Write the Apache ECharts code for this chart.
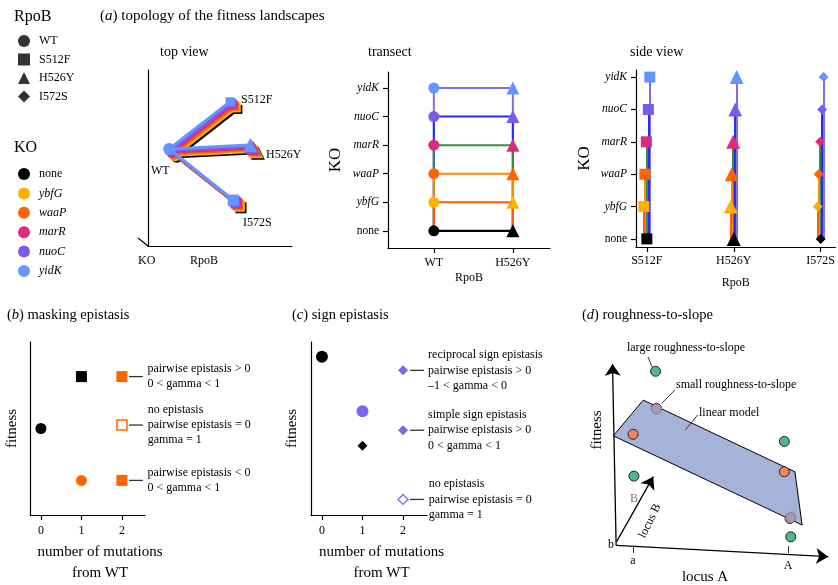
<!DOCTYPE html>
<html><head><meta charset="utf-8">
<script src="https://cdn.jsdelivr.net/npm/echarts@6/dist/echarts.min.js"></script>
<style>html,body{margin:0;padding:0;background:#fff}#c{width:838px;height:585px}</style>
</head><body><div id="c"></div>
<script>
// ---------------- data ----------------
const koNames = ['none','ybfG','waaP','marR','nuoC','yidK'];
const rpoNames = ['WT','S512F','H526Y','I572S'];
// (a) top view: schematic positions of the genotypes (bottom "none" layer)
const topX = [2.01, 6.24, 7.63, 6.46];
const topY = [5.07, 7.76, 5.30, 2.17];
const topLift = [0, 1, 2, 3, 4, 5];          // stacking height of each KO layer
// (a) transect and side view categories
const transectRpo = ['WT','H526Y'];
const sideRpo = ['S512F','H526Y','I572S'];
// (b) masking epistasis
const bMutations = [0, 1, 1, 2, 2, 2];
const bFitness   = [0.5, 0.8, 0.2, 0.8, 0.52, 0.2];
const bNotes = ['', '', '',
  'pairwise epistasis > 0\n0 < gamma < 1',
  'no epistasis\npairwise epistasis = 0\ngamma = 1',
  'pairwise epistasis < 0\n0 < gamma < 1'];
// (c) sign epistasis
const cMutations = [0, 1, 1, 2, 2, 2];
const cFitness   = [0.915, 0.6, 0.4, 0.836, 0.49, 0.09];
const cNotes = ['', '', '',
  'reciprocal sign epistasis\npairwise epistasis > 0\n\u20131 < gamma < 0',
  'simple sign epistasis\npairwise epistasis > 0\n0 < gamma < 1',
  'no epistasis\npairwise epistasis = 0\ngamma = 1'];
// (d) roughness-to-slope schematic
const dPlaneX = [24.5, 83.3, 86.1, 12.9];
const dPlaneY = [72.5, 44.4, 23.5, 58.5];
const dModelX = [20.6, 29.6, 79.2, 81.4];      // orange: model points
const dModelY = [59.1, 69.3, 44.4, 26.1];
const dRoughX = [29.3, 79.2, 20.9, 81.7];      // green: rough landscape
const dRoughY = [83.8, 56.3, 42.7, 18.9];
const dSmoothX = [29.6, 81.7];                 // grey-purple: small roughness
const dSmoothY = [69.0, 26.5];
const dAxes = [ [[14.0,15.5],[12.6,86.7]], [[14.0,15.5],[96.2,11.1]], [[14.2,17.0],[28.4,42.5]] ];
const dTicks = [ [[20.6,15.3],[20.6,12.5]], [[80.6,15.3],[80.6,12.5]] ];
const dLeaders = [ [[26.4,89.4],[28.1,85.0]], [[36.8,76.5],[31.6,71.2]], [[45.6,66.7],[40.8,60.8]] ];

// ---------------- styles ----------------
const SERIF = "'Liberation Serif','Times New Roman',serif";
const koColors = ['#000000','#ffb000','#ff6400','#de2a7e','#7b5ce8','#6495ff'];
const edgeColors = ['#000000','#ff5a14','#ff8c00','#3c8c3c','#2a2aff','#8070e8'];
const rpoSymbols = ['circle','rect','triangle','diamond'];
const topSymbols = ['circle','rect','triangle','rect'];
const topSizes = [12, 9, 14, 11];
const TOP_DX = -0.108, TOP_DY = 0.088;
const sideSymbols = ['rect','triangle','diamond'];
const sideSizes = [11, 14, 10];
const sideDodge = [0, -0.034, -0.023, -0.006, 0.017, 0.034];
const ORANGE = '#ff6400', PURPLE = '#7b68ee';

const chart = echarts.init(document.getElementById('c'));

const axisLine = {show:true, onZero:false, lineStyle:{color:'#000', width:1.2}};
const axisTick = (vals)=>({show:true, inside:false, length:5, customValues:vals, lineStyle:{color:'#000', width:1.2}});
const koLabel = {
  fontFamily:SERIF, fontSize:11.5, color:'#000', margin:9,
  formatter: v => v === 0 ? '{n|none}' : '{i|' + koNames[v] + '}',
  rich:{ n:{fontFamily:SERIF, fontSize:11.5, color:'#000'}, i:{fontFamily:SERIF, fontSize:11.5, fontStyle:'italic', color:'#000'} }
};

const grid = [
  {left:148, top:70, width:144, height:176},   // 0 top view
  {left:388, top:72, width:162, height:176},   // 1 transect
  {left:636, top:70, width:202, height:177},   // 2 side view
  {left:30,  top:342, width:115, height:176},  // 3 (b)
  {left:311, top:342, width:116, height:177},  // 4 (c)
  {left:580, top:330, width:258, height:255}   // 5 (d)
];

const xAxis = [
  {gridIndex:0, type:'value', min:0, max:10, axisLine, axisTick:{show:false}, axisLabel:{show:false}, splitLine:{show:false}},
  {gridIndex:1, type:'value', min:-0.58, max:1.47, axisLine, axisTick:axisTick([0,1]), splitLine:{show:false},
    axisLabel:{customValues:[0,1], formatter:v=>transectRpo[Math.round(v)], fontFamily:SERIF, fontSize:12, color:'#000', margin:9},
    name:'RpoB', nameLocation:'middle', nameGap:24, nameTextStyle:{fontFamily:SERIF, fontSize:12, color:'#000'}},
  {gridIndex:2, type:'value', min:-0.125, max:2.17, axisLine, axisTick:axisTick([0,1,2]), splitLine:{show:false},
    axisLabel:{customValues:[0,1,2], formatter:v=>sideRpo[Math.round(v)], fontFamily:SERIF, fontSize:12, color:'#000', margin:8},
    name:'RpoB', nameLocation:'middle', nameGap:30, nameTextStyle:{fontFamily:SERIF, fontSize:12, color:'#000'}},
  {gridIndex:3, type:'value', min:-0.27, max:2.57, axisLine, axisTick:axisTick([0,1,2]), splitLine:{show:false},
    axisLabel:{customValues:[0,1,2], fontFamily:SERIF, fontSize:12, color:'#000', margin:10},
    name:'number of mutations\nfrom WT', nameLocation:'middle', nameGap:27,
    nameTextStyle:{fontFamily:SERIF, fontSize:15, lineHeight:21, color:'#000', padding:[0,0,0,25]}},
  {gridIndex:4, type:'value', min:-0.27, max:2.59, axisLine, axisTick:axisTick([0,1,2]), splitLine:{show:false},
    axisLabel:{customValues:[0,1,2], fontFamily:SERIF, fontSize:12, color:'#000', margin:10},
    name:'number of mutations\nfrom WT', nameLocation:'middle', nameGap:27,
    nameTextStyle:{fontFamily:SERIF, fontSize:15, lineHeight:21, color:'#000', padding:[0,0,0,25]}},
  {gridIndex:5, type:'value', min:0, max:100, show:false}
];
const yAxis = [
  {gridIndex:0, type:'value', min:0, max:10, axisLine, axisTick:{show:false}, axisLabel:{show:false}, splitLine:{show:false}},
  {gridIndex:1, type:'value', min:-0.6, max:5.56, axisLine, axisTick:axisTick([0,1,2,3,4,5]), splitLine:{show:false},
    axisLabel:Object.assign({customValues:[0,1,2,3,4,5]}, koLabel),
    name:'KO', nameLocation:'middle', nameGap:44, nameTextStyle:{fontFamily:SERIF, fontSize:17, color:'#000'}},
  {gridIndex:2, type:'value', min:-0.25, max:5.22, axisLine, axisTick:axisTick([0,1,2,3,4,5]), splitLine:{show:false},
    axisLabel:Object.assign({customValues:[0,1,2,3,4,5]}, koLabel),
    name:'KO', nameLocation:'middle', nameGap:43, nameTextStyle:{fontFamily:SERIF, fontSize:17, color:'#000'}},
  {gridIndex:3, type:'value', min:0, max:1, axisLine, axisTick:{show:false}, axisLabel:{show:false}, splitLine:{show:false},
    name:'fitness', nameLocation:'middle', nameGap:10, nameTextStyle:{fontFamily:SERIF, fontSize:15, color:'#000'}},
  {gridIndex:4, type:'value', min:0, max:1, axisLine, axisTick:{show:false}, axisLabel:{show:false}, splitLine:{show:false},
    name:'fitness', nameLocation:'middle', nameGap:11, nameTextStyle:{fontFamily:SERIF, fontSize:15, color:'#000'}},
  {gridIndex:5, type:'value', min:0, max:100, show:false}
];

const series = [];

// legend-only series for RpoB shapes
rpoNames.forEach(n => series.push({name:n, type:'scatter', data:[], xAxisIndex:0, yAxisIndex:0, itemStyle:{color:'#000'}}));

// ---- (a) top view ----
koNames.forEach((ko, i) => {
  const dx = TOP_DX * topLift[i], dy = TOP_DY * topLift[i];
  const pts = rpoNames.map((r, j) => [topX[j] + dx, topY[j] + dy]);
  series.push({type:'lines', coordinateSystem:'cartesian2d', xAxisIndex:0, yAxisIndex:0, silent:true,
    data:[1,2,3].map(j => ({coords:[pts[0], pts[j]]})),
    lineStyle:{color:koColors[i], width:3, opacity:1}, z:2 + i*2});
  series.push({type:'scatter', xAxisIndex:0, yAxisIndex:0, silent:true,
    data: pts.map((p, j) => ({value:p, symbol:topSymbols[j], symbolSize:topSizes[j]})),
    itemStyle:{color:koColors[i], opacity:1}, z:3 + i*2});
});

// ---- (a) transect ----
for (let k = 5; k >= 1; k--) {
  series.push({type:'line', xAxisIndex:1, yAxisIndex:1, symbol:'none', silent:true,
    data:[[0,0],[0,k],[1,k],[1,0]], lineStyle:{color:edgeColors[k], width:2}, z:2});
}
series.push({type:'line', xAxisIndex:1, yAxisIndex:1, symbol:'none', silent:true,
  data:[[0,0],[1,0]], lineStyle:{color:'#000', width:2.2}, z:3});
koNames.forEach((ko, i) => series.push({name:ko, type:'scatter', xAxisIndex:1, yAxisIndex:1,
  data:[{value:[0,i], symbol:'circle', symbolSize:11}, {value:[1,i], symbol:'triangle', symbolSize:13}],
  itemStyle:{color:koColors[i], opacity:1}, z:5}));

// ---- (a) side view ----
koNames.forEach((ko, i) => {
  const d = sideDodge[i];
  if (i > 0) series.push({type:'lines', coordinateSystem:'cartesian2d', xAxisIndex:2, yAxisIndex:2, silent:true,
    data: sideRpo.map((r, c) => ({coords:[[c + d, 0], [c + d, i]]})),
    lineStyle:{color:edgeColors[i], width:2, opacity:1}, z:2 + (5 - i)});
  series.push({type:'scatter', xAxisIndex:2, yAxisIndex:2, silent:true,
    data: sideRpo.map((r, c) => ({value:[c + d, i], symbol:sideSymbols[c], symbolSize:sideSizes[c]})),
    itemStyle:{color:koColors[i], opacity:1}, z:10});
});

// ---- (b) & (c) ----
const noteLabel = (txt) => ({show: !!txt, formatter: txt, position:'right', distance:20,
  fontFamily:SERIF, fontSize:12, lineHeight:15.3, color:'#000', align:'left', verticalAlign:'middle'});
const bStyles = [
  {symbol:'circle', size:11, item:{color:'#000'}},
  {symbol:'rect', size:11, item:{color:'#000'}},
  {symbol:'circle', size:11, item:{color:ORANGE}},
  {symbol:'rect', size:11, item:{color:ORANGE}},
  {symbol:'rect', size:10, item:{color:'#fff', borderColor:ORANGE, borderWidth:1.5}},
  {symbol:'rect', size:11, item:{color:ORANGE}}
];
const cStyles = [
  {symbol:'circle', size:12, item:{color:'#000'}},
  {symbol:'circle', size:12, item:{color:PURPLE}},
  {symbol:'diamond', size:10, item:{color:'#000'}},
  {symbol:'diamond', size:10, item:{color:PURPLE}},
  {symbol:'diamond', size:10, item:{color:PURPLE}},
  {symbol:'diamond', size:10, item:{color:'#fff', borderColor:PURPLE, borderWidth:1.3}}
];
function epistasisPanel(ax, muts, fit, notes, styles) {
  series.push({type:'scatter', xAxisIndex:ax, yAxisIndex:ax, silent:true,
    data: muts.map((m, i) => ({value:[m, fit[i]], symbol:styles[i].symbol, symbolSize:styles[i].size,
      itemStyle:Object.assign({opacity:1}, styles[i].item), label:noteLabel(notes[i])})), z:5});
  series.push({type:'custom', xAxisIndex:ax, yAxisIndex:ax, silent:true,
    data: muts.map((m, i) => [m, fit[i]]).filter((d, i) => notes[i]),
    renderItem:(params, api) => {
      const p = api.coord([api.value(0), api.value(1)]);
      return {type:'line', shape:{x1:p[0] + 7, y1:p[1], x2:p[0] + 21, y2:p[1]}, style:{stroke:'#333', lineWidth:1.3}};
    }, z:4});
}
epistasisPanel(3, bMutations, bFitness, bNotes, bStyles);
epistasisPanel(4, cMutations, cFitness, cNotes, cStyles);

// ---- (d) roughness-to-slope ----
series.push({type:'custom', xAxisIndex:5, yAxisIndex:5, silent:true,
  data: dPlaneX.map((x, i) => [x, dPlaneY[i]]),
  renderItem:(params, api) => {
    if (params.dataIndex !== 0) return null;
    const pts = dPlaneX.map((x, i) => api.coord([x, dPlaneY[i]]));
    return {type:'polygon', shape:{points:pts}, style:{fill:'#a5b3d8', stroke:'#000', lineWidth:1}};
  }, z:2});
series.push({type:'lines', coordinateSystem:'cartesian2d', xAxisIndex:5, yAxisIndex:5, silent:true,
  data: dAxes.map(c => ({coords:c})), symbol:['none','arrow'], symbolSize:[0, 12],
  lineStyle:{color:'#000', width:1.3, opacity:1}, z:3});
series.push({type:'lines', coordinateSystem:'cartesian2d', xAxisIndex:5, yAxisIndex:5, silent:true,
  data: dTicks.concat(dLeaders).map(c => ({coords:c})),
  lineStyle:{color:'#333', width:1, opacity:1}, z:3});
const dot = (color, border) => ({color, borderColor:border, borderWidth:1, opacity:1});
series.push({type:'scatter', xAxisIndex:5, yAxisIndex:5, silent:true, symbolSize:10,
  data: dModelX.map((x, i) => [x, dModelY[i]]), itemStyle:dot('#f5845c', '#222'), z:4});
series.push({type:'scatter', xAxisIndex:5, yAxisIndex:5, silent:true, symbolSize:10,
  data: dRoughX.map((x, i) => [x, dRoughY[i]]), itemStyle:dot('#4db88a', '#222'), z:4});
series.push({type:'scatter', xAxisIndex:5, yAxisIndex:5, silent:true, symbolSize:10,
  data: dSmoothX.map((x, i) => [x, dSmoothY[i]]), itemStyle:dot('rgba(165,152,195,0.9)', '#888'), z:5});

// ---- texts ----
function txt(x, y, text, size, o) {
  o = o || {};
  const fill = o.fill || '#000';
  return {type:'text', x, y, rotation:o.rot || 0, silent:true, z:100,
    style:{text, fontFamily:SERIF, fontSize:size, fill, align:o.align || 'left', verticalAlign:'middle',
      rich:{i:{fontFamily:SERIF, fontSize:size, fontStyle:'italic', fill}}}};
}
const hline = (x1, y1, x2, y2) => ({type:'line', silent:true, shape:{x1, y1, x2, y2}, style:{stroke:'#000', lineWidth:1.2}});
const graphic = [
  txt(100, 16, '({i|a}) topology of the fitness landscapes', 15),
  txt(14, 17, 'RpoB', 16),
  txt(14, 148, 'KO', 16),
  txt(160, 52, 'top view', 14),
  txt(368, 52, 'transect', 14),
  txt(630, 52, 'side view', 14),
  txt(241, 100, 'S512F', 12),
  txt(266, 155, 'H526Y', 12),
  txt(243, 223, 'I572S', 12),
  txt(151, 171, 'WT', 12),
  txt(138, 261, 'KO', 12),
  txt(190, 261, 'RpoB', 12),
  hline(138, 238, 148, 246),
  txt(7, 315, '({i|b}) masking epistasis', 14.5),
  txt(292, 315, '({i|c}) sign epistasis', 14.5),
  txt(582, 315, '({i|d}) roughness-to-slope', 14.5),
  txt(686, 348, 'large roughness-to-slope', 12, {align:'center'}),
  txt(676, 384.5, 'small roughness-to-slope', 12),
  txt(699, 413, 'linear model', 12),
  txt(634, 499, 'B', 12, {align:'center', fill:'#777'}),
  txt(650, 521, 'locus B', 12, {align:'center', rot:64 * Math.PI / 180}),
  txt(614, 545, 'b', 12, {align:'right'}),
  txt(633, 561, 'a', 12, {align:'center'}),
  txt(788, 566, 'A', 12, {align:'center'}),
  txt(705, 577, 'locus A', 15, {align:'center'}),
  txt(597, 430, 'fitness', 15, {align:'center', rot:Math.PI / 2})
];

const legendText = {fontFamily:SERIF, fontSize:12, color:'#000', padding:[0,0,0,4],
  rich:{i:{fontFamily:SERIF, fontSize:12, fontStyle:'italic', color:'#000'}}};
const legend = [
  {data: rpoNames.map((n, i) => ({name:n, icon:rpoSymbols[i]})), orient:'vertical', left:13, top:30,
   itemWidth:12, itemHeight:12, itemGap:6.5, selectedMode:false, textStyle:legendText},
  {data: koNames.map(n => ({name:n, icon:'circle'})), orient:'vertical', left:13, top:163,
   itemWidth:12, itemHeight:12, itemGap:7.4, selectedMode:false, textStyle:legendText,
   formatter: n => n === 'none' ? n : '{i|' + n + '}'}
];

chart.setOption({animation:false, backgroundColor:'#fff', grid, xAxis, yAxis, series, graphic, legend});
</script></body></html>
